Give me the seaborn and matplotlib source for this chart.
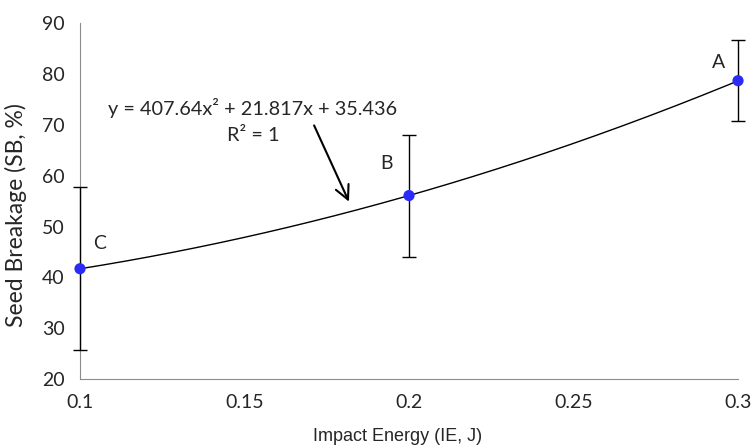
import numpy as np
import pandas as pd
import matplotlib
matplotlib.use("Agg")
import matplotlib.pyplot as plt
import seaborn as sns

# data
energy = [0.1, 0.2, 0.3]
breakage = [41.7, 56.1, 78.7]
err = [16.0, 12.0, 8.0]
point_labels = ["C", "B", "A"]
fit_coef = [407.64, 21.817, 35.436]

sns.set_style("white")
plt.rcParams["font.family"] = ["Lato", "DejaVu Sans"]

df = pd.DataFrame({"IE": energy, "SB": breakage, "err": err, "lab": point_labels})

fig = plt.figure(figsize=(7.54, 4.46), dpi=100)
ax = fig.add_axes([0.1061, 0.1502, 0.8727, 0.7976])

# trendline from the printed equation
xs = np.linspace(energy[0], energy[-1], 200)
curve = pd.DataFrame({"IE": xs, "SB": np.polyval(fit_coef, xs)})
sns.lineplot(data=curve, x="IE", y="SB", color="black", linewidth=1.0, ax=ax, zorder=2)

eb = ax.errorbar(df["IE"], df["SB"], yerr=df["err"], fmt="none", ecolor="black",
                 elinewidth=1.0, capsize=5, capthick=1.0, zorder=3)
for art in eb.lines[1] + eb.lines[2]:
    art.set_clip_on(False)
sns.scatterplot(data=df, x="IE", y="SB", color="#2b2bf7", s=65, edgecolor="none",
                ax=ax, zorder=4, clip_on=False)

# label offsets in points
offsets = {"C": (14, 18), "B": (-16, 23), "A": (-14, 13)}
for _, r in df.iterrows():
    ax.annotate(r["lab"], (r["IE"], r["SB"]), textcoords="offset points",
                xytext=offsets[r["lab"]], ha="center", va="center", fontsize=14)

ax.text(0.1526, 73.3, "y = 407.64x² + 21.817x + 35.436", ha="center", va="center",
        fontsize=14.3)
ax.text(0.1526, 68.0, "R² = 1", ha="center", va="center", fontsize=14.3)
ax.annotate("", xy=(0.1821, 54.4), xytext=(0.1708, 70.4),
            arrowprops=dict(arrowstyle="->", color="black", lw=1.5, mutation_scale=25))

ax.set_xlim(0.1, 0.3)
ax.set_ylim(20, 90)
ax.set_xticks([0.1, 0.15, 0.2, 0.25, 0.3])
ax.set_xticklabels(["0.1", "0.15", "0.2", "0.25", "0.3"])
ax.set_yticks(range(20, 91, 10))
ax.tick_params(axis="both", direction="out", length=5, color="#8c8c8c", width=0.8,
               labelsize=14, labelcolor="#262626", pad=6)
ax.set_ylabel("Seed Breakage (SB, %)", fontsize=16.5, color="#262626")
ax.yaxis.set_label_coords(-0.08, 0.461)
ax.set_xlabel("Impact Energy (IE, J)", fontsize=13, family="Liberation Sans",
              color="#262626", va="center")
ax.xaxis.set_label_coords(0.483, -0.163)
for s in ["top", "right"]:
    ax.spines[s].set_visible(False)
for s in ["left", "bottom"]:
    ax.spines[s].set_color("#8c8c8c")
    ax.spines[s].set_linewidth(0.8)

fig.savefig("out.png", dpi=100)
